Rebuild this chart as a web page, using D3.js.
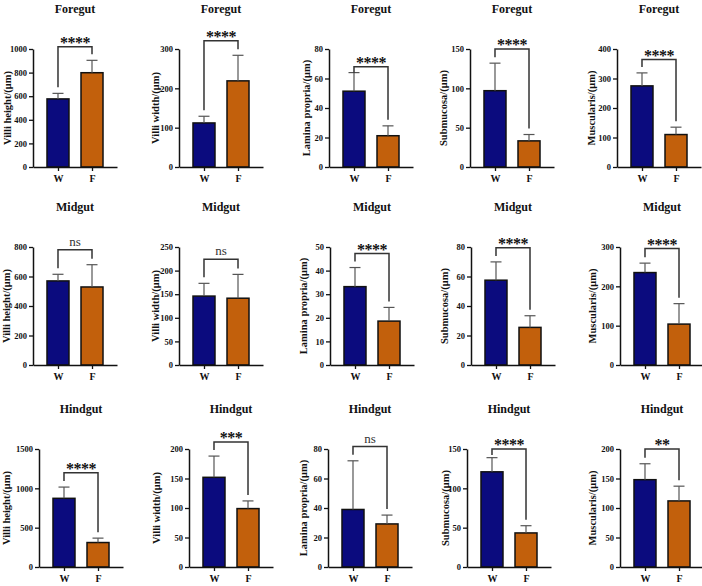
<!DOCTYPE html>
<html>
<head>
<meta charset="utf-8">
<script src="https://cdn.jsdelivr.net/npm/d3@7"></script>
<style>
  body { margin: 0; background: #fff; }
  svg { display: block; }
  text { font-family: "Liberation Serif", "Times New Roman", serif; }
</style>
</head>
<body>
<div id="chart"></div>
<script>
// data (rows: gut region, columns: measure)
const regions = ["Foregut", "Midgut", "Hindgut"];
const measures = ["Villi height/(μm)", "Villi width/(μm)", "Lamina propria/(μm)", "Submucosa/(μm)", "Muscularis/(μm)"];
const groups = ["W", "F"];

const yMax = [[1000, 300, 80, 150, 400], [800, 250, 50, 80, 300], [1500, 200, 80, 150, 200]];
const yStep = [[200, 100, 20, 50, 100], [200, 50, 10, 20, 100], [500, 50, 20, 50, 50]];

const meanW = [[577, 112, 51.4, 97, 275], [570, 146, 33.2, 57.5, 235], [873, 152, 39, 121, 148]];
const sdW = [[47, 17, 12.6, 35, 44], [45, 27, 8.1, 12.4, 24], [143, 36, 33, 18, 27]];
const meanF = [[799, 219, 21.2, 33.2, 110], [529, 141.5, 18.6, 25.5, 104], [311, 99, 29.2, 43.3, 112]];
const sdF = [[105, 65, 6.7, 8.1, 25], [151, 50.5, 5.8, 7.9, 52], [56, 13, 6, 9.2, 25]];

const signif = [["****", "****", "****", "****", "****"], ["ns", "ns", "****", "****", "****"], ["****", "***", "ns", "****", "**"]];
const bracketTop = [[1020, 321, 68, 150, 364], [782, 224, 47.2, 79.5, 296], [1197, 212, 81.7, 150, 200]];

// layout
const W = 702, H = 586;
const rowTop = [49, 247, 449];
const plotH = 118;
const axisX = [[33, 179, 329, 470, 617], [33, 179, 330, 471, 620], [39, 189, 328, 467, 620]];
const labelX = [[7, 155, 306, 443, 591], [6, 155, 303, 444, 592], [6, 156, 303, 445, 592]];
const axisLen = 84;
const barW = 22;
const colors = {W: "#0b0b7e", F: "#c2600c"};

const svg = d3.select("#chart").append("svg")
    .attr("width", W)
    .attr("height", H);

regions.forEach((region, r) => {
    measures.forEach((measure, c) => {
        let x0 = axisX[r][c];
        let y0 = rowTop[r];

        let g = svg.append("g")
            .attr("transform", "translate(" + x0 + "," + y0 + ")");

        let y = d3.scaleLinear().domain([0, yMax[r][c]]).range([plotH, 0]);
        let x = d3.scalePoint().domain(groups).range([0, axisLen]).padding(0.735);

        // title
        g.append("text")
            .attr("x", axisLen / 2)
            .attr("y", -36)
            .attr("text-anchor", "middle")
            .attr("font-size", 12)
            .attr("font-weight", "bold")
            .attr("fill", "#111")
            .text(region);

        // y label
        g.append("text")
            .attr("transform", "translate(" + (labelX[r][c] - x0) + "," + (plotH / 2) + ") rotate(-90)")
            .attr("text-anchor", "middle")
            .attr("dominant-baseline", "central")
            .attr("font-size", 10.5)
            .attr("font-weight", "bold")
            .attr("fill", "#111")
            .text(measure);

        let vals = [
            {g: "W", m: meanW[r][c], sd: sdW[r][c]},
            {g: "F", m: meanF[r][c], sd: sdF[r][c]}
        ];

        // bars
        g.selectAll(".bar")
            .data(vals)
            .enter().append("rect")
            .attr("class", "bar")
            .attr("x", d => x(d.g) - barW / 2)
            .attr("y", d => y(d.m))
            .attr("width", barW)
            .attr("height", d => plotH - y(d.m))
            .attr("fill", d => colors[d.g])
            .attr("stroke", "#111")
            .attr("stroke-width", 1.5);

        // upper error bars
        vals.forEach(d => {
            g.append("line")
                .attr("x1", x(d.g)).attr("x2", x(d.g))
                .attr("y1", y(d.m)).attr("y2", y(d.m + d.sd))
                .attr("stroke", "#555").attr("stroke-width", 1.2);
            g.append("line")
                .attr("x1", x(d.g) - 5.5).attr("x2", x(d.g) + 5.5)
                .attr("y1", y(d.m + d.sd)).attr("y2", y(d.m + d.sd))
                .attr("stroke", "#555").attr("stroke-width", 1.2);
        });

        // axes
        let yAxis = g.append("g")
            .call(d3.axisLeft(y)
                .tickValues(d3.range(0, yMax[r][c] + yStep[r][c] / 2, yStep[r][c]))
                .tickFormat(d3.format("d"))
                .tickSize(4)
                .tickSizeOuter(0)
                .tickPadding(2));
        let xAxis = g.append("g")
            .attr("transform", "translate(0," + plotH + ")")
            .call(d3.axisBottom(x).tickSize(4).tickSizeOuter(0).tickPadding(4));

        [yAxis, xAxis].forEach(a => {
            a.attr("font-family", null).attr("font-size", null);
            a.select(".domain").attr("stroke", "#111").attr("stroke-width", 1.5);
            a.selectAll(".tick line").attr("stroke", "#111").attr("stroke-width", 1.3);
            a.selectAll(".tick text").attr("font-weight", "bold").attr("fill", "#111");
        });
        yAxis.selectAll(".tick text").attr("font-size", 8.5);
        xAxis.selectAll(".tick text").attr("font-size", 10);

        // significance bracket
        let by = y(bracketTop[r][c]);
        let legW = Math.max(by + 6, y(vals[0].m + vals[0].sd) - 6);
        let legF = Math.max(by + 6, y(vals[1].m + vals[1].sd) - 6);
        g.append("path")
            .attr("d", "M" + x("W") + "," + legW + "V" + by + "H" + x("F") + "V" + legF)
            .attr("fill", "none")
            .attr("stroke", "#333")
            .attr("stroke-width", 1.5);

        let ns = signif[r][c] === "ns";
        g.append("text")
            .attr("x", (x("W") + x("F")) / 2)
            .attr("y", ns ? by - 4 : by + 1)
            .attr("text-anchor", "middle")
            .attr("font-size", ns ? 13 : 16)
            .attr("font-weight", ns ? "normal" : "bold")
            .attr("letter-spacing", ns ? 0 : -0.5)
            .attr("fill", ns ? "#333" : "#111")
            .text(signif[r][c]);
    });
});
</script>
</body>
</html>
